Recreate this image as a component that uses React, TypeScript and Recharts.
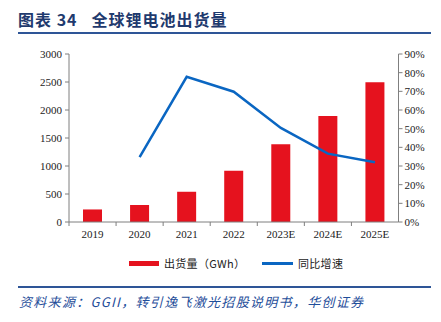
import React from 'react';
import { ComposedChart, Bar, Line, XAxis, YAxis } from 'recharts';

const categories = ['2019', '2020', '2021', '2022', '2023E', '2024E', '2025E'];
const shipments = [224, 304, 540, 915, 1390, 1893, 2495];
const growth = [null, 34.7, 77.8, 69.8, 50.4, 36.6, 32.0];
const leftTicks = [0, 500, 1000, 1500, 2000, 2500, 3000];
const rightTicks = [0, 10, 20, 30, 40, 50, 60, 70, 80, 90];

const data = categories.map((c, i) => ({ name: c, shipments: shipments[i], growth: growth[i] }));

const PLOT_LEFT = 69;
const PLOT_RIGHT = 398.5;
const BAND = (PLOT_RIGHT - PLOT_LEFT) / categories.length;
const AXIS_COLOR = '#7f7f7f';
const TICK_FONT = '"Liberation Serif", "Times New Roman", serif';
const CJK = '"Noto Sans CJK SC", "Noto Sans", sans-serif';

const XTick = (props: any) => {
  const { x, y, payload } = props;
  const bx = x - BAND / 2;
  return (
    <g>
      <line x1={bx} y1={y - 8} x2={bx} y2={y - 4} stroke={AXIS_COLOR} strokeWidth={1} />
      <text x={x} y={y + 8} textAnchor="middle" fontFamily={TICK_FONT} fontSize={11} fill="#222">
        {payload.value}
      </text>
    </g>
  );
};

export default function App() {
  return (
    <div style={{ position: 'absolute', left: 0, top: 0, width: 441, height: 322, background: '#fff' }}>
      <div
        style={{
          position: 'absolute',
          left: 18,
          top: 8,
          fontFamily: CJK,
          fontWeight: 700,
          fontSize: 16,
          color: '#1f3a6e',
          whiteSpace: 'pre',
          lineHeight: '22px',
          letterSpacing: 1,
        }}
      >
        {'图表 34   全球锂电池出货量'}
      </div>
      <div style={{ position: 'absolute', left: 18, top: 32, width: 413, height: 2, background: '#2e5597' }} />
      <div style={{ position: 'absolute', left: 0, top: 0 }}>
        <ComposedChart
          width={441}
          height={322}
          data={data}
          margin={{ top: 54, right: 0, bottom: 70, left: 0 }}
          barCategoryGap={0}
        >
          <XAxis
            dataKey="name"
            xAxisId="x"
            height={30}
            tickLine={false}
            tick={<XTick />}
            axisLine={{ stroke: AXIS_COLOR }}
            interval={0}
          />
          <YAxis
            yAxisId="left"
            orientation="left"
            width={69}
            domain={[0, 3000]}
            ticks={leftTicks}
            interval={0}
            tickSize={4}
            tickMargin={3}
            axisLine={{ stroke: AXIS_COLOR }}
            tickLine={{ stroke: AXIS_COLOR }}
            tick={{ fontFamily: TICK_FONT, fontSize: 11, fill: '#222' }}
          />
          <YAxis
            yAxisId="right"
            orientation="right"
            width={42.5}
            domain={[0, 90]}
            ticks={rightTicks}
            interval={0}
            tickSize={4}
            tickMargin={2}
            tickFormatter={(v: number) => `${v}%`}
            axisLine={{ stroke: AXIS_COLOR }}
            tickLine={{ stroke: AXIS_COLOR }}
            tick={{ fontFamily: TICK_FONT, fontSize: 11, fill: '#222' }}
          />
          <Bar
            dataKey="shipments"
            xAxisId="x"
            yAxisId="left"
            fill="#e5121e"
            barSize={19}
            isAnimationActive={false}
          />
          <Line
            dataKey="growth"
            xAxisId="x"
            yAxisId="right"
            stroke="#0a66c2"
            strokeWidth={2.5}
            dot={false}
            type="linear"
            connectNulls={false}
            isAnimationActive={false}
          />
        </ComposedChart>
      </div>
      <div style={{ position: 'absolute', left: 129, top: 261, width: 30, height: 5, background: '#e5121e' }} />
      <div
        style={{
          position: 'absolute',
          left: 164,
          top: 255,
          fontFamily: CJK,
          fontSize: 11,
          color: '#222',
          lineHeight: '16px',
          whiteSpace: 'pre',
          letterSpacing: 0.3,
        }}
      >
        出货量（GWh）
      </div>
      <div style={{ position: 'absolute', left: 262, top: 262, width: 31, height: 3, background: '#0a66c2' }} />
      <div
        style={{
          position: 'absolute',
          left: 298,
          top: 255,
          fontFamily: CJK,
          fontSize: 11,
          color: '#222',
          lineHeight: '16px',
          whiteSpace: 'pre',
          letterSpacing: 0.3,
        }}
      >
        同比增速
      </div>
      <div style={{ position: 'absolute', left: 18, top: 286, width: 413, height: 2, background: '#2e5597' }} />
      <div
        style={{
          position: 'absolute',
          left: 19,
          top: 293,
          fontFamily: CJK,
          fontStyle: 'italic',
          fontSize: 13,
          color: '#1f4e9a',
          lineHeight: '18px',
          whiteSpace: 'pre',
          letterSpacing: 1.3,
        }}
      >
        资料来源：GGII，转引逸飞激光招股说明书，华创证券
      </div>
    </div>
  );
}
